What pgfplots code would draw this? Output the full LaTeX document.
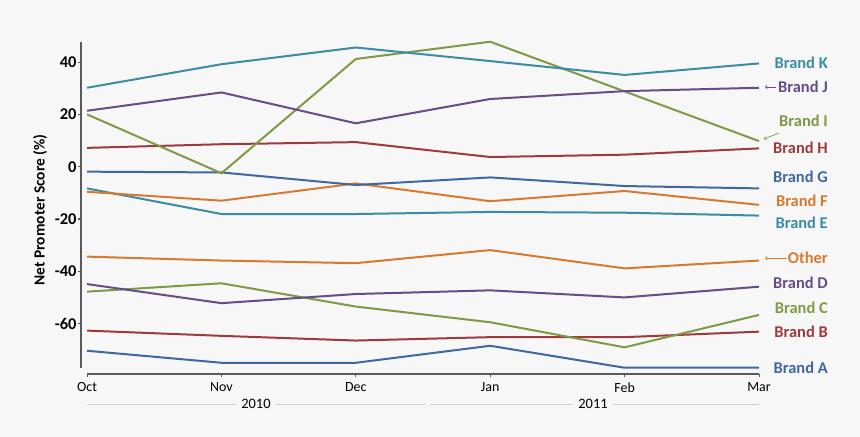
\documentclass[border=0pt]{standalone}
\usepackage{fontspec}
\setmainfont{Carlito}
\usepackage{pgfplots}
\pgfplotsset{compat=1.18}

\definecolor{bgc}{HTML}{F7F7F7}
\definecolor{axgray}{HTML}{5A5A5A}
\definecolor{yrgray}{HTML}{CFCFCF}
\definecolor{cblue}{HTML}{3F67A2}
\definecolor{cred}{HTML}{9E3A3D}
\definecolor{cgreen}{HTML}{7E9A44}
\definecolor{cpurple}{HTML}{684C89}
\definecolor{cteal}{HTML}{3B8CA4}
\definecolor{corange}{HTML}{D77A30}

\begin{document}
\begin{tikzpicture}
\fill[bgc] (0,0) rectangle (860bp,437bp);
\begin{axis}[
    at={(81bp,69bp)}, anchor=south west,
    scale only axis, width=678bp, height=326bp,
    xmin=-0.045, xmax=5, ymin=-77, ymax=47.7,
    clip=false,
    axis line style={draw=none},
    xtick={0,...,5},
    xticklabels={Oct,Nov,Dec,Jan,Feb,Mar},
    xtick style={draw=none},
    xticklabel style={font=\fontsize{14}{14}\selectfont, yshift=-8bp},
    ytick={-60,-40,-20,0,20,40},
    ytick pos=left, tick align=outside,
    ytick style={axgray, line width=1.2bp},
    major tick length=3bp,
    yticklabel style={font=\bfseries\fontsize{16.5}{16.5}\selectfont, xshift=2bp},
    /pgf/number format/assume math mode=true,
    ylabel={Net Promoter Score (\%)},
    every axis y label/.style={at={(axis description cs:-0.0605,0.485)},
        anchor=center, rotate=90, font=\bfseries\fontsize{15.5}{15.5}\selectfont},
    every axis plot/.append style={line width=2bp, no marks},
]
% lines
\addplot[cblue]   coordinates {(0,-70.4) (1,-75.0) (2,-75.0) (3,-68.5) (4,-76.9) (5,-76.9)};
\addplot[cred]    coordinates {(0,-62.7) (1,-64.7) (2,-66.5) (3,-65.2) (4,-65.2) (5,-63.1)};
\addplot[cgreen]  coordinates {(0,-47.8) (1,-44.6) (2,-53.5) (3,-59.5) (4,-69.1) (5,-56.7)};
\addplot[cpurple] coordinates {(0,-44.9) (1,-52.2) (2,-48.7) (3,-47.3) (4,-50.0) (5,-45.9)};
\addplot[corange] coordinates {(0,-34.4) (1,-35.9) (2,-36.9) (3,-31.9) (4,-38.9) (5,-35.9)};
\addplot[cteal]   coordinates {(0,-8.3) (1,-18.1) (2,-18.1) (3,-17.3) (4,-17.6) (5,-18.7)};
\addplot[corange] coordinates {(0,-9.6) (1,-13.0) (2,-6.4) (3,-13.2) (4,-9.3) (5,-14.6)};
\addplot[cblue]   coordinates {(0,-1.9) (1,-2.2) (2,-7.0) (3,-4.1) (4,-7.4) (5,-8.3)};
\addplot[cred]    coordinates {(0,7.2) (1,8.6) (2,9.4) (3,3.7) (4,4.6) (5,7.0)};
\addplot[cgreen]  coordinates {(0,20.0) (1,-2.5) (2,41.2) (3,47.8) (4,28.8) (5,9.8)};
\addplot[cpurple] coordinates {(0,21.4) (1,28.4) (2,16.6) (3,25.9) (4,28.9) (5,30.2)};
\addplot[cteal]   coordinates {(0,30.2) (1,39.2) (2,45.6) (3,40.4) (4,35.1) (5,39.5)};

% axes
\draw[axgray, line width=1.2bp] (axis cs:-0.045,-77) -- (axis cs:-0.045,47.7);
\draw[axgray, line width=1.2bp] (axis cs:0,-79.3) -- (axis cs:5,-79.3);
\draw[axgray, line width=1bp] (axis cs:0,-79.3) -- (axis cs:0,-80.6);
\draw[axgray, line width=1bp] (axis cs:1,-79.3) -- (axis cs:1,-80.6);
\draw[axgray, line width=1bp] (axis cs:2,-79.3) -- (axis cs:2,-80.6);
\draw[axgray, line width=1bp] (axis cs:3,-79.3) -- (axis cs:3,-80.6);
\draw[axgray, line width=1bp] (axis cs:4,-79.3) -- (axis cs:4,-80.6);
\draw[axgray, line width=1bp] (axis cs:5,-79.3) -- (axis cs:5,-80.6);

% years
\draw[yrgray, line width=1bp] (axis cs:0,-90.8) -- (axis cs:2.515,-90.8);
\draw[yrgray, line width=1bp] (axis cs:2.552,-90.8) -- (axis cs:5,-90.8);
\node[fill=bgc, inner xsep=5bp, inner ysep=1bp, font=\fontsize{14.5}{14.5}\selectfont] at (axis cs:1.257,-90.8) {2010};
\node[fill=bgc, inner xsep=5bp, inner ysep=1bp, font=\fontsize{14.5}{14.5}\selectfont] at (axis cs:3.765,-90.8) {2011};

% series labels
\tikzset{lab/.style={anchor=east, inner sep=0pt, font=\bfseries\fontsize{16.5}{16.5}\selectfont}}
\node[lab, text=cteal]   at (axis cs:5.513,39.7)  {Brand K};
\node[lab, text=cpurple] at (axis cs:5.513,30.5)  {Brand J};
\node[lab, text=cgreen]  at (axis cs:5.513,17.5)  {Brand I};
\node[lab, text=cred]    at (axis cs:5.513,7.2)   {Brand H};
\node[lab, text=cblue]   at (axis cs:5.513,-3.9)  {Brand G};
\node[lab, text=corange] at (axis cs:5.513,-13.1) {Brand F};
\node[lab, text=cteal]   at (axis cs:5.513,-21.5) {Brand E};
\node[lab, text=corange] at (axis cs:5.513,-34.9) {Other};
\node[lab, text=cpurple] at (axis cs:5.513,-44.5) {Brand D};
\node[lab, text=cgreen]  at (axis cs:5.513,-54.1) {Brand C};
\node[lab, text=cred]    at (axis cs:5.513,-63.2) {Brand B};
\node[lab, text=cblue]   at (axis cs:5.513,-77.0) {Brand A};

% pointer arrows
\draw[cpurple, line width=0.7bp, ->] (axis cs:5.127,30.5) -- (axis cs:5.045,30.5);
\draw[corange, line width=0.7bp, ->] (axis cs:5.208,-34.9) -- (axis cs:5.045,-34.9);
\draw[cgreen, line width=0.7bp, ->] (axis cs:5.149,12.9) -- (axis cs:5.037,10.6);
\end{axis}
\pgfresetboundingbox
\path (0,0) rectangle (860bp,437bp);
\end{tikzpicture}
\end{document}
